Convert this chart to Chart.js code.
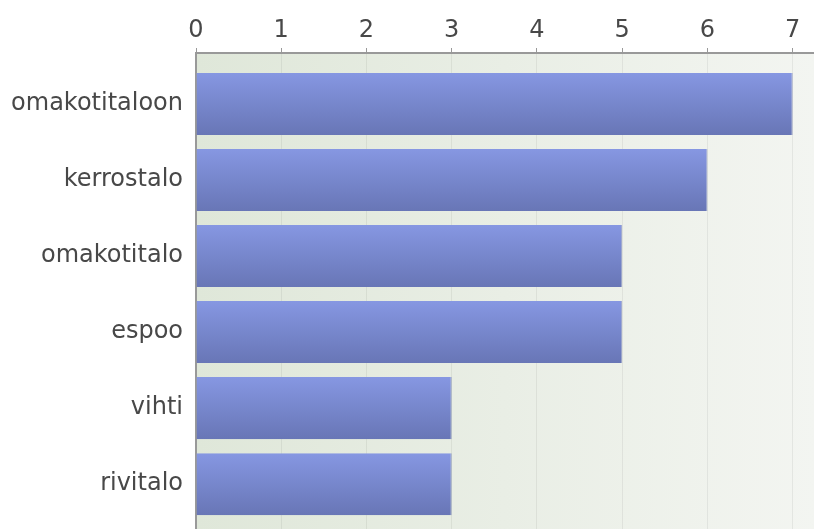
<!DOCTYPE html>
<html>
<head>
<meta charset="utf-8">
<script src="https://cdn.jsdelivr.net/npm/chart.js@4"></script>
<style>
  html, body { margin: 0; padding: 0; background: #fff; overflow: hidden; }
</style>
</head>
<body>
<canvas id="barChart" width="814" height="529"></canvas>
<script>
// Chart data
const categories = ['omakotitaloon', 'kerrostalo', 'omakotitalo', 'espoo', 'vihti', 'rivitalo'];
const counts = [7, 6, 5, 5, 3, 3];
const xTicks = [0, 1, 2, 3, 4, 5, 6, 7];

/**
 * Paint the greenish plot background behind the bars
 */
const plotBackground = {
  id: 'plotBackground',
  beforeDraw(chart) {
    const { ctx, chartArea } = chart;
    const grad = ctx.createLinearGradient(chartArea.left, 0, chartArea.right, 0);
    grad.addColorStop(0, '#dfe7d9');
    grad.addColorStop(0.5, '#e9eee5');
    grad.addColorStop(1, '#f3f5f1');
    ctx.save();
    ctx.fillStyle = grad;
    ctx.fillRect(chartArea.left, chartArea.top, chartArea.right - chartArea.left, chartArea.bottom - chartArea.top);
    ctx.restore();
  }
};

/**
 * Vertical gradient for each bar, light on top and darker below
 */
function barGradient(context) {
  const chart = context.chart;
  const yScale = chart.scales.y;
  const fallback = '#7787cc';
  if (!yScale || context.dataIndex === undefined) {
    return fallback;
  }
  const center = yScale.getPixelForValue(context.dataIndex);
  if (!isFinite(center)) {
    return fallback;
  }
  const half = 31;
  const grad = chart.ctx.createLinearGradient(0, center - half, 0, center + half);
  grad.addColorStop(0, '#8697e2');
  grad.addColorStop(1, '#6876b6');
  return grad;
}

const textFont = { family: 'DejaVu Sans', size: 24 };

new Chart(document.getElementById('barChart').getContext('2d'), {
  type: 'bar',
  data: {
    datasets: [{
      data: categories.map((name, i) => ({ x: counts[i], y: i })),
      backgroundColor: barGradient,
      borderColor: 'rgba(95, 108, 175, 0.6)',
      borderWidth: { top: 0, bottom: 0, left: 0, right: 1 },
      borderSkipped: 'start',
      categoryPercentage: 1,
      barPercentage: 0.816
    }]
  },
  plugins: [plotBackground],
  options: {
    indexAxis: 'y',
    responsive: false,
    animation: false,
    layout: { padding: 0 },
    plugins: {
      legend: { display: false },
      tooltip: { enabled: false }
    },
    scales: {
      x: {
        type: 'linear',
        position: 'top',
        bounds: 'data',
        offset: false,
        min: 0,
        max: 7.25,
        afterBuildTicks: (scale) => {
          scale.ticks = xTicks.map(v => ({ value: v }));
        },
        afterFit: (scale) => {
          scale.height = 53;
          scale.paddingRight = 0;
        },
        ticks: {
          stepSize: 1,
          includeBounds: false,
          color: '#484848',
          font: textFont,
          padding: 3
        },
        grid: {
          color: 'rgba(0, 0, 0, 0.06)',
          tickColor: '#999',
          tickLength: 5
        },
        border: { color: '#999', width: 2 }
      },
      y: {
        type: 'linear',
        reverse: true,
        bounds: 'data',
        offset: false,
        min: -0.671,
        max: 5.59,
        afterBuildTicks: (scale) => {
          scale.ticks = categories.map((name, i) => ({ value: i }));
        },
        afterFit: (scale) => {
          scale.width = 196;
          scale.paddingTop = 0;
          scale.paddingBottom = 0;
        },
        ticks: {
          stepSize: 1,
          includeBounds: false,
          color: '#484848',
          font: textFont,
          padding: 13,
          callback: (value) => categories[value] || ''
        },
        grid: { display: false, drawTicks: false },
        border: { display: true, color: '#999', width: 2 }
      }
    }
  }
});
</script>
</body>
</html>
